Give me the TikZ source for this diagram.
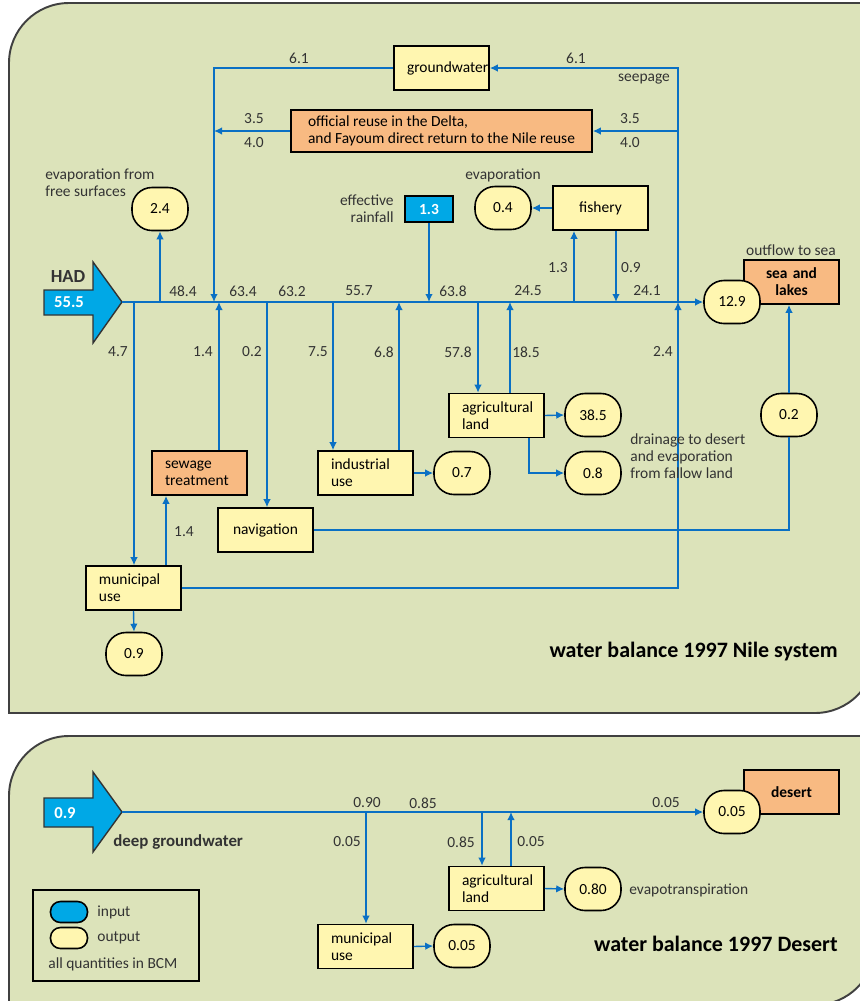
\documentclass[tikz,border=0pt]{standalone}
\usepackage{fontspec}
\setmainfont{Carlito}
\usetikzlibrary{arrows.meta, positioning}
\definecolor{panelgreen}{RGB}{220,227,186}
\definecolor{useyellow}{RGB}{255,246,176}
\definecolor{sinkorange}{RGB}{248,186,130}
\definecolor{flowblue}{RGB}{10,112,196}
\definecolor{inblue}{RGB}{0,168,230}

\begin{document}
\begin{tikzpicture}[
            x=0.2mm, y=-0.2mm,
            font=\fontsize{8.8}{9.7}\selectfont,
            panel/.style={draw=black!75, line width=1.1pt, fill=panelgreen},
            usebox/.style={draw, line width=0.9pt, fill=useyellow, rectangle, minimum width=1.9cm, minimum height=0.88cm, inner xsep=0.26cm, text width=1.38cm, align=left},
            sink/.style={usebox, fill=sinkorange},
            outlet/.style={draw, line width=0.9pt, fill=useyellow, rectangle, rounded corners=0.4cm, minimum width=1.12cm, minimum height=0.86cm, inner sep=0pt},
            inbox/.style={draw, line width=0.9pt, fill=inblue, rectangle, text=white, font=\fontsize{8.8}{9.7}\selectfont\bfseries},
            bigarrow/.style={draw=black!80, line width=0.8pt, fill=inblue},
            flow/.style={draw=flowblue, line width=0.8pt, ->},
            val/.style={text=black!80, inner sep=1pt},
            note/.style={text=black!80, align=left, inner sep=0pt},
            title/.style={font=\fontsize{12.5}{15}\selectfont\bfseries, anchor=east, inner sep=0pt},
            >={Latex[length=1.6mm, width=1.5mm]}
        ]
            \useasboundingbox (0,0) rectangle (860,1001);
            \clip (0,0) rectangle (860,1001);

            \draw[panel] (9,713) -- (9,63) arc (180:270:60) -- (875,3) -- (875,653) arc (0:90:60) -- cycle;
            \draw[panel] (9,1005) -- (9,796) arc (180:270:60) -- (875,736) -- (875,945) arc (0:90:60) -- cycle;

            \draw[bigarrow] (44,290) -- (93,290) -- (93,262) -- (122,302) -- (93,343) -- (93,315) -- (44,315) -- cycle;
            \coordinate (had) at (122,302);
            \node[text=white, font=\fontsize{9.5}{10}\selectfont\bfseries] (hadval) at (69,302) {55.5};
            \node[text=black!80, font=\fontsize{10.5}{12}\selectfont\bfseries] (hadname) at (68,277) {HAD};

            \node[usebox, align=center] (gw) at (441.5,68) {groundwater};
            \node[sink, minimum width=6.02cm, minimum height=0.84cm, text width={}] (reuse) at (441.5,131) {official reuse in the Delta,\\and Fayoum direct return to the Nile reuse};
            \node[inbox, minimum width=0.96cm, minimum height=0.52cm, inner sep=0pt] (rain) at (429,209) {1.3};
            \node[usebox, align=center] (fish) at (600.5,208) {fishery};
            \node[sink, align=center, font=\fontsize{8.8}{9.7}\selectfont\bfseries] (sea) at (791.5,282) {sea and\\lakes};
            \node[usebox] (agri) at (496.5,415.5) {agricultural\\land};
            \node[usebox] (ind) at (365.5,473) {industrial\\use};
            \node[sink] (sew) at (199.5,473) {sewage\\treatment};
            \node[usebox, align=center] (nav) at (265.5,530) {navigation};
            \node[usebox] (mun) at (133.5,588) {municipal\\use};

            \node[outlet] (o24) at (160,209) {2.4};
            \node[outlet] (o04) at (503,208) {0.4};
            \node[outlet] (o129) at (732,302) {12.9};
            \node[outlet] (o385) at (593,415) {38.5};
            \node[outlet] (o08) at (593,473) {0.8};
            \node[outlet] (o07) at (462,473) {0.7};
            \node[outlet] (o02) at (789,415) {0.2};
            \node[outlet] (o09) at (134,654) {0.9};

            \coordinate (jmun) at (134,302);
            \coordinate (jevap) at (160,302);
            \coordinate (jgw) at (214,302);
            \coordinate (jsew) at (219,302);
            \coordinate (jnav) at (267,302);
            \coordinate (jind) at (333,302);
            \coordinate (jindret) at (399,302);
            \coordinate (jrain) at (429,302);
            \coordinate (jagri) at (478,302);
            \coordinate (jagriret) at (510,302);
            \coordinate (jfish) at (574,302);
            \coordinate (jfishret) at (616,302);
            \coordinate (jseep) at (678,302);

            \draw[flow] (had) -- (o129.west);
            \draw[flow] (jmun) -- (jmun |- mun.north);
            \draw[flow] (jevap) -- (o24.south);
            \draw[flow] (gw.west) -| (jgw);
            \draw[flow] (reuse.west) -- (reuse.west -| jgw);
            \draw[flow] (sew.north -| jsew) -- (jsew);
            \draw[flow] (jnav) -- (jnav |- nav.north);
            \draw[flow] (jind) -- (jind |- ind.north);
            \draw[flow] (ind.north -| jindret) -- (jindret);
            \draw[flow] (rain.south) -- (jrain);
            \draw[flow] (jagri) -- (jagri |- agri.north);
            \draw[flow] (agri.north -| jagriret) -- (jagriret);
            \draw[flow] (jfish) -- (jfish |- fish.south);
            \draw[flow] (fish.south -| jfishret) -- (jfishret);
            \draw[flow] (fish.west) -- (o04.east);
            \draw[flow] (mun.east) -| (jseep);
            \draw[flow] (jseep) |- (gw.east);
            \draw[flow] (jseep |- reuse.east) -- (reuse.east);
            \draw[flow] ([xshift=0.65cm]mun.north) -- ([xshift=0.65cm]mun.north |- sew.south);
            \draw[flow] (mun.south) -- (o09.north);
            \draw[flow] (ind.east) -- (o07.west);
            \draw[flow] (agri.east) -- (o385.west);
            \draw[flow] ([xshift=0.65cm]agri.south) |- (o08.west);
            \draw[flow, -] (nav.east) -| (o02.south);
            \draw[flow] (o02.north) -- (o02.north |- sea.south);

            \node[val] (v484) at (183,291) {48.4};
            \node[val] (v634) at (243,291) {63.4};
            \node[val] (v632) at (292,291) {63.2};
            \node[val] (v557) at (359,291) {55.7};
            \node[val] (v638) at (453,291) {63.8};
            \node[val] (v245) at (528,291) {24.5};
            \node[val] (v241) at (647,291) {24.1};
            \node[val] (v47) at (118,352) {4.7};
            \node[val] (v14a) at (203,352) {1.4};
            \node[val] (v02) at (252,352) {0.2};
            \node[val] (v75) at (318,352) {7.5};
            \node[val] (v68) at (384,352) {6.8};
            \node[val] (v578) at (458,352) {57.8};
            \node[val] (v185) at (526,352) {18.5};
            \node[val] (v24) at (663,352) {2.4};
            \node[val] (v61a) at (299,58) {6.1};
            \node[val] (v61b) at (576,58) {6.1};
            \node[val] (v35a) at (254,119) {3.5};
            \node[val] (v40a) at (254,143) {4.0};
            \node[val] (v35b) at (630,119) {3.5};
            \node[val] (v40b) at (630,143) {4.0};
            \node[val] (v13) at (558,268) {1.3};
            \node[val] (v09) at (631,268) {0.9};
            \node[val] (v14b) at (184,532) {1.4};
            \node[val] (seep) at (644,79) {seepage};

            \node[note, anchor=north west] (freesurf) at (45,168) {evaporation from\\free surfaces};
            \node[note, anchor=north east, align=right] (effrain) at (394,194) {effective\\rainfall};
            \node[val] (fishevap) at (503,175) {evaporation};
            \node[val] (outsea) at (791,250) {outflow to sea};
            \node[note, anchor=north west] (fallow) at (630,433) {drainage to desert\\and evaporation\\from fallow land};
            \node[title] (nile) at (838,652) {water balance 1997 Nile system};

            \draw[bigarrow] (44,798) -- (93,798) -- (93,772) -- (122,812) -- (93,852) -- (93,827) -- (44,827) -- cycle;
            \coordinate (deep) at (122,812);
            \node[text=white, font=\fontsize{9.5}{10}\selectfont\bfseries] (deepval) at (65,813) {0.9};
            \node[note, anchor=west, font=\fontsize{9.6}{10}\selectfont\bfseries] (deepname) at (113,842) {deep groundwater};

            \node[sink, align=center, font=\fontsize{8.8}{9.7}\selectfont\bfseries] (desert) at (791.5,792) {desert};
            \node[outlet] (o005a) at (732,812) {0.05};
            \node[usebox] (agri2) at (496.5,888.5) {agricultural\\land};
            \node[outlet] (o080) at (593,889) {0.80};
            \node[usebox] (mun2) at (365.5,946.5) {municipal\\use};
            \node[outlet] (o005b) at (462,946) {0.05};

            \coordinate (jmun2) at (366,812);
            \coordinate (jagri2) at (482,812);
            \coordinate (jret2) at (511,812);

            \draw[flow] (deep) -- (o005a.west);
            \draw[flow] (jmun2) -- (jmun2 |- mun2.north);
            \draw[flow] (jagri2) -- (jagri2 |- agri2.north);
            \draw[flow] (agri2.north -| jret2) -- (jret2);
            \draw[flow] (agri2.east) -- (o080.west);
            \draw[flow] (mun2.east) -- (o005b.west);

            \node[val] (w090) at (367,803) {0.90};
            \node[val] (w085a) at (423,803) {0.85};
            \node[val] (w005a) at (666,803) {0.05};
            \node[val] (w005b) at (347,842) {0.05};
            \node[val] (w085b) at (461,842) {0.85};
            \node[val] (w005c) at (531,842) {0.05};
            \node[note, anchor=west] (evapo) at (629,890) {evapotranspiration};
            \node[title] (desertttl) at (838,944) {water balance 1997 Desert};

            \node[draw, line width=0.9pt, minimum width=3.32cm, minimum height=1.82cm] (legend) at (116,935.5) {};
            \node[outlet, fill=inblue, minimum width=0.74cm, minimum height=0.42cm, rounded corners=0.2cm] (keyin) at (69,912) {};
            \node[outlet, minimum width=0.74cm, minimum height=0.42cm, rounded corners=0.2cm] (keyout) at (69,938) {};
            \node[note, anchor=west] (keyintext) at (97,912) {input};
            \node[note, anchor=west] (keyouttext) at (97,938) {output};
            \node[note, anchor=west] (keynote) at (48,964) {all quantities in BCM};
        \end{tikzpicture}
\end{document}
